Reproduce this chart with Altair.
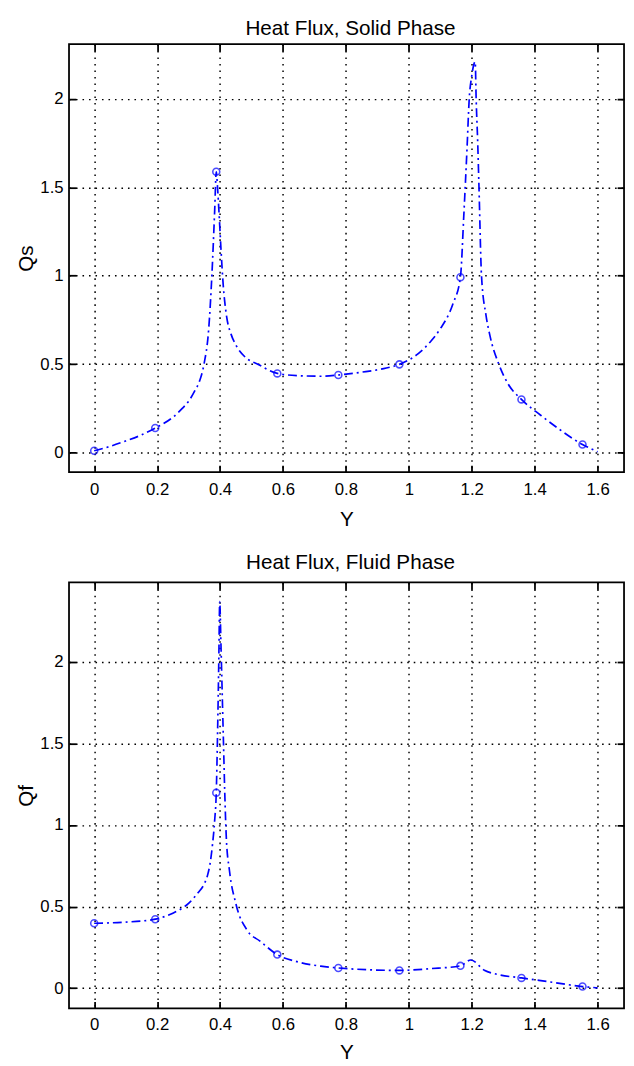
import altair as alt
import pandas as pd

# ---------------- data ----------------
x_ticks = [0, 0.2, 0.4, 0.6, 0.8, 1.0, 1.2, 1.4, 1.6]
y_ticks = [0, 0.5, 1, 1.5, 2]

marker_x = [0, 0.194, 0.388, 0.582, 0.776, 0.970, 1.164, 1.358, 1.552]

# Solid phase heat flux Qs
qs_curve_x = [0, 0.05, 0.1, 0.15, 0.194, 0.25, 0.28, 0.3, 0.32, 0.336, 0.349, 0.364, 0.374,
              0.383, 0.388, 0.392, 0.397, 0.403, 0.41, 0.42, 0.435, 0.45, 0.48, 0.52,
              0.582, 0.65, 0.72, 0.776, 0.85, 0.92, 0.97, 1.03, 1.07, 1.1, 1.14, 1.164,
              1.175, 1.185, 1.192, 1.2, 1.211, 1.214, 1.219, 1.223, 1.231, 1.245,
              1.258, 1.286, 1.315, 1.358, 1.42, 1.48, 1.552, 1.6]
qs_curve_y = [0.011, 0.035, 0.066, 0.10, 0.139, 0.20, 0.25, 0.29, 0.35, 0.41, 0.50, 0.70, 1.0,
              1.37, 1.588, 1.50, 1.35, 1.15, 0.95, 0.78, 0.67, 0.61, 0.54, 0.50,
              0.448, 0.435, 0.432, 0.439, 0.455, 0.475, 0.499, 0.56, 0.63, 0.70, 0.84, 0.992,
              1.35, 1.72, 2.0, 2.13, 2.21, 2.0, 1.75, 1.5, 1.0, 0.78,
              0.66, 0.5, 0.39, 0.301, 0.21, 0.13, 0.046, 0.005]
qs_marker_y = [0.011, 0.139, 1.588, 0.448, 0.439, 0.499, 0.992, 0.301, 0.046]

# Fluid phase heat flux Qf
qf_curve_x = [0, 0.1, 0.194, 0.25, 0.3, 0.33, 0.35, 0.36, 0.368, 0.376, 0.383, 0.388, 0.392,
              0.396, 0.399, 0.403, 0.407, 0.411, 0.415, 0.42, 0.43, 0.45, 0.488, 0.526,
              0.582, 0.65, 0.72, 0.776, 0.87, 0.97, 1.07, 1.164, 1.197, 1.24, 1.28,
              1.358, 1.45, 1.552, 1.6]
qf_curve_y = [0.398, 0.405, 0.423, 0.46, 0.52, 0.585, 0.64, 0.69, 0.76, 0.88, 1.03, 1.198, 1.55,
              2.0, 2.37, 2.1, 1.8, 1.5, 1.2, 0.92, 0.72, 0.52, 0.35, 0.29,
              0.206, 0.16, 0.135, 0.124, 0.113, 0.109, 0.12, 0.137, 0.173, 0.11, 0.085,
              0.063, 0.038, 0.010, 0.002]
qf_marker_y = [0.398, 0.423, 1.198, 0.206, 0.124, 0.109, 0.137, 0.063, 0.010]

x_domain = [-0.08, 1.684]
qs_domain = [-0.11, 2.31]
qf_domain = [-0.124, 2.488]

FONT = "Liberation Sans"
BLUE = "#0000ff"


def panel(cx, cy, my, ydom, title, ytitle, h, title_offset, xlabel_pad, xtitle_pad):
    curve = pd.DataFrame({"x": cx, "q": cy})
    marks = pd.DataFrame({"x": marker_x, "q": my})
    xs = alt.Scale(domain=x_domain, nice=False, zero=False)
    ys = alt.Scale(domain=ydom, nice=False, zero=False)

    main_x = alt.Axis(values=x_ticks, format="~g", orient="bottom", grid=True,
                      ticks=False, tickSize=0, domain=False, labelPadding=xlabel_pad,
                      title="Y", titlePadding=xtitle_pad)
    main_y = alt.Axis(values=y_ticks, format="~g", orient="left", grid=True,
                      ticks=False, tickSize=0, domain=False, labelPadding=6,
                      title=ytitle, titlePadding=3)

    def tick_axis(vals, orient):
        return alt.Axis(values=vals, orient=orient, offset=-7, tickSize=7, ticks=True,
                        labels=False, grid=False, domain=False, title=None,
                        tickColor="black", tickWidth=1.8, minExtent=0, maxExtent=0)

    line = alt.Chart(curve).mark_line(
        color=BLUE, strokeWidth=1.7, strokeDash=[9, 4, 2, 4],
        interpolate="monotone", clip=True
    ).encode(
        x=alt.X("x:Q", scale=xs, axis=main_x),
        y=alt.Y("q:Q", scale=ys, axis=main_y),
    )
    pts = alt.Chart(marks).mark_point(
        shape="circle", filled=False, color=BLUE, size=50, strokeWidth=1.6
    ).encode(
        x=alt.X("x:Q", scale=xs, axis=tick_axis(x_ticks, "top")),
        y=alt.Y("q:Q", scale=ys, axis=tick_axis(y_ticks, "right")),
    )
    pts2 = alt.Chart(marks).mark_point(opacity=0).encode(
        x=alt.X("x:Q", scale=xs, axis=tick_axis(x_ticks, "bottom")),
        y=alt.Y("q:Q", scale=ys, axis=tick_axis(y_ticks, "left")),
    )
    return alt.layer(line, pts, pts2).resolve_axis(
        x="independent", y="independent"
    ).properties(
        width=564, height=h,
        title=alt.TitleParams(title, offset=title_offset, dx=4),
    )


top = panel(qs_curve_x, qs_curve_y, qs_marker_y, qs_domain,
            "Heat Flux, Solid Phase", "Qs", 435, 4, 10, 11)
bottom = panel(qf_curve_x, qf_curve_y, qf_marker_y, qf_domain,
               "Heat Flux, Fluid Phase", "Qf", 433, 9, 8.5, 9)

chart = alt.vconcat(top, bottom, spacing=112, bounds="flush").properties(
    padding={"left": 7, "top": 1, "right": 0, "bottom": 0},
    background="white",
).configure_view(
    stroke="black", strokeWidth=1.8
).configure_axis(
    labelFont=FONT, labelFontSize=17, labelColor="black",
    titleFont=FONT, titleFontSize=21, titleFontWeight="normal", titleColor="black",
    gridColor="black", gridDash=[1.6, 5], gridWidth=1.5, gridOpacity=1,
).configure_title(
    font=FONT, fontSize=21, fontWeight="normal", color="black", anchor="middle"
)

chart.save("out.html", embed_options={"renderer": "svg", "actions": False})
